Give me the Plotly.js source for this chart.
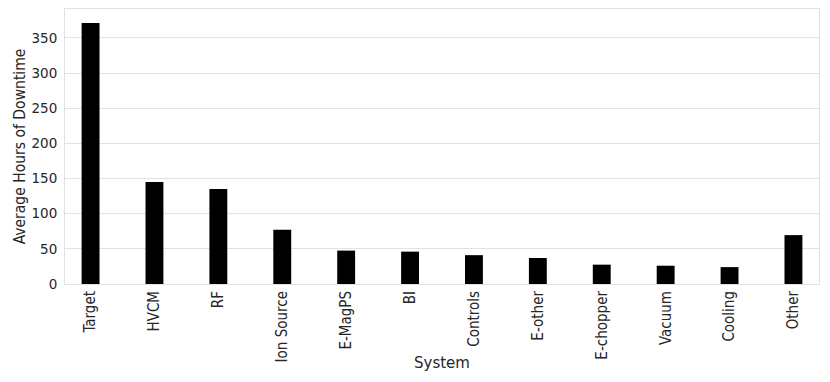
<!DOCTYPE html>
<html>
<head>
<meta charset="utf-8">
<script src="https://cdn.plot.ly/plotly-3.0.1.min.js"></script>
<style>
  html, body { margin: 0; padding: 0; background: #fff; }
  #chart { width: 830px; height: 382px; }
</style>
</head>
<body>
<div id="chart"></div>
<script>
  var systems = ['Target', 'HVCM', 'RF', 'Ion Source', 'E-MagPS', 'BI', 'Controls',
                 'E-other', 'E-chopper', 'Vacuum', 'Cooling', 'Other'];
  var avgHours = [371, 145, 135, 77, 47.5, 46, 41, 37, 27.5, 26, 24, 69.5];

  var condensed = 'DejaVu Sans Condensed, DejaVu Sans';

  var data = [{
    x: systems,
    y: avgHours,
    type: 'bar',
    width: 0.28,
    marker: { color: '#000000', line: { width: 0 } },
    hoverinfo: 'x+y'
  }];

  var layout = {
    width: 830,
    height: 382,
    margin: { l: 65, r: 11, t: 9, b: 98 },
    paper_bgcolor: '#ffffff',
    plot_bgcolor: '#ffffff',
    showlegend: false,
    xaxis: {
      range: [-0.4, 11.4],
      tickangle: -90,
      ticks: '',
      showgrid: false,
      showline: true,
      mirror: true,
      linecolor: '#e2e2e2',
      linewidth: 1,
      automargin: false,
      tickfont: { family: condensed, size: 15, color: '#262626' },
      fixedrange: true
    },
    yaxis: {
      range: [0, 391],
      tickvals: [0, 50, 100, 150, 200, 250, 300, 350],
      ticks: '',
      ticklabelstandoff: 4,
      showgrid: true,
      gridcolor: '#e2e2e2',
      gridwidth: 1,
      zeroline: false,
      showline: true,
      mirror: true,
      linecolor: '#e2e2e2',
      linewidth: 1,
      automargin: false,
      tickfont: { family: 'DejaVu Sans', size: 13.5, color: '#262626' },
      title: { text: 'Average Hours of Downtime', font: { family: condensed, size: 15.5, color: '#262626' }, standoff: 2 },
      fixedrange: true
    },
    annotations: [{
      text: 'System',
      xref: 'paper', yref: 'paper',
      x: 0.5, y: -0.287,
      xanchor: 'center', yanchor: 'middle',
      showarrow: false,
      font: { family: 'DejaVu Sans', size: 15, color: '#262626' }
    }]
  };

  var config = { displayModeBar: false };

  Plotly.newPlot('chart', data, layout, config);
</script>
</body>
</html>
